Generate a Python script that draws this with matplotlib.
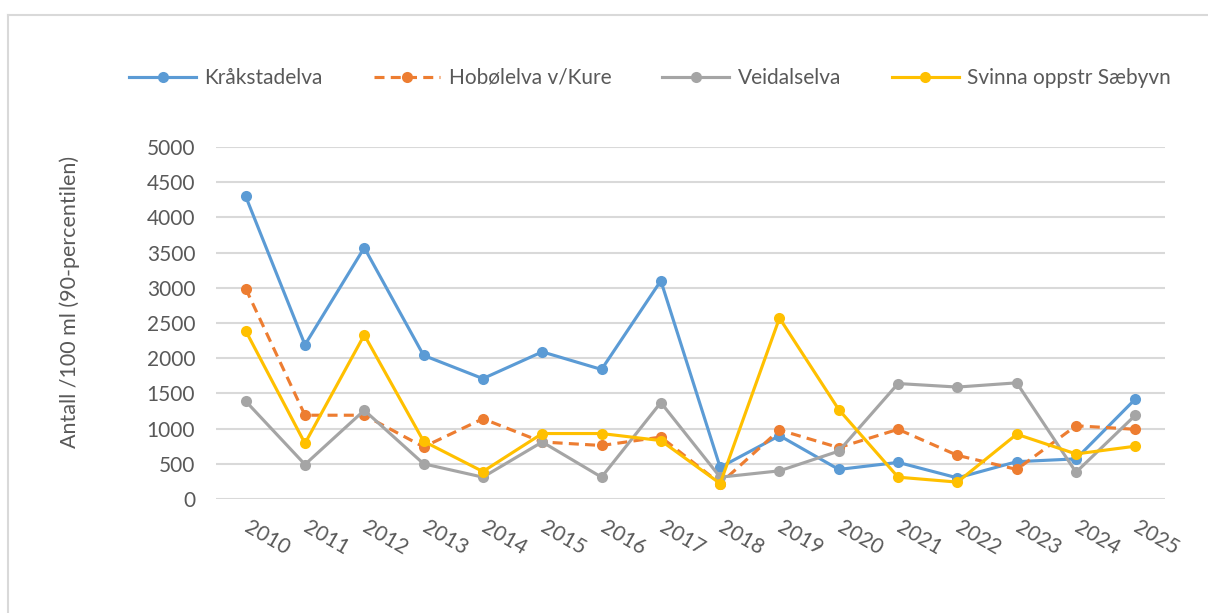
import matplotlib
matplotlib.use("Agg")
import matplotlib.pyplot as plt
from matplotlib.lines import Line2D

years = ["2010", "2011", "2012", "2013", "2014", "2015", "2016", "2017",
         "2018", "2019", "2020", "2021", "2022", "2023", "2024", "2025"]
krakstadelva = [4300, 2190, 3570, 2040, 1710, 2090, 1840, 3100,
                450, 900, 420, 520, 300, 530, 570, 1420]
hobolelva = [2990, 1190, 1190, 740, 1140, 810, 760, 880,
             220, 980, 730, 990, 620, 420, 1040, 990]
veidalselva = [1390, 490, 1260, 500, 310, 810, 310, 1370,
               310, 400, 680, 1640, 1590, 1650, 380, 1190]
svinna = [2390, 790, 2330, 820, 390, 930, 930, 830,
          220, 2570, 1270, 310, 240, 920, 640, 750]
series_names = ["Kråkstadelva", "Hobølelva v/Kure", "Veidalselva", "Svinna oppstr Sæbyvn"]
y_ticks = [0, 500, 1000, 1500, 2000, 2500, 3000, 3500, 4000, 4500, 5000]
y_label = "Antall /100 ml (90-percentilen)"

plt.rcParams['font.family'] = ['Lato', 'DejaVu Sans']
txt_color = "#595959"
fs = 15

fig = plt.figure(figsize=(12.08, 6.13), dpi=100)
ax = fig.add_axes([216/1208, 1-499/613, (1165-216)/1208, (499-147)/613])

x = list(range(len(years)))
colors = ["#5B9BD5", "#ED7D31", "#A5A5A5", "#FFC000"]
styles = ["-", (0, (3.2, 2.0)), "-", "-"]
data = [krakstadelva, hobolelva, veidalselva, svinna]
handles = []
for vals, c, ls, name in zip(data, colors, styles, series_names):
    h, = ax.plot(x, vals, color=c, linestyle=ls, linewidth=2.25,
                 marker="o", markersize=8, markeredgewidth=0, label=name,
                 zorder=3)
    handles.append(h)

ax.set_xlim(-0.5, len(years) - 0.5)
ax.set_ylim(0, 5000)
ax.set_yticks(y_ticks)
ax.set_yticklabels([str(v) for v in y_ticks])
ax.yaxis.grid(True, color="#D9D9D9", linewidth=1.5, zorder=0)
ax.set_axisbelow(True)
for s in ax.spines.values():
    s.set_visible(False)
ax.tick_params(axis="both", length=0, colors=txt_color, labelsize=fs)
ax.tick_params(axis="y", pad=15)
ax.set_xticks(x)
ax.set_xticklabels(years, rotation=-30, ha="left", va="center",
                   rotation_mode="anchor")
ax.tick_params(axis="x", pad=19)

ax.set_ylabel(y_label, color=txt_color, fontsize=15.5)
ax.yaxis.set_label_coords(-0.143, 0.56)

leg = fig.legend(handles=handles, loc="center", ncol=4,
                 bbox_to_anchor=(650/1208, 1-78/613), frameon=False,
                 fontsize=fs, handlelength=3.2, handletextpad=0.4,
                 columnspacing=2.45, labelcolor=txt_color)

# outer chart border (top and left visible)
fig.add_artist(Line2D([8/1208, 1.0], [1-15/613, 1-15/613], color="#D9D9D9",
                      linewidth=1.5, transform=fig.transFigure))
fig.add_artist(Line2D([8/1208, 8/1208], [0.0, 1-15/613], color="#D9D9D9",
                      linewidth=1.5, transform=fig.transFigure))

fig.savefig("out.png", dpi=100)
